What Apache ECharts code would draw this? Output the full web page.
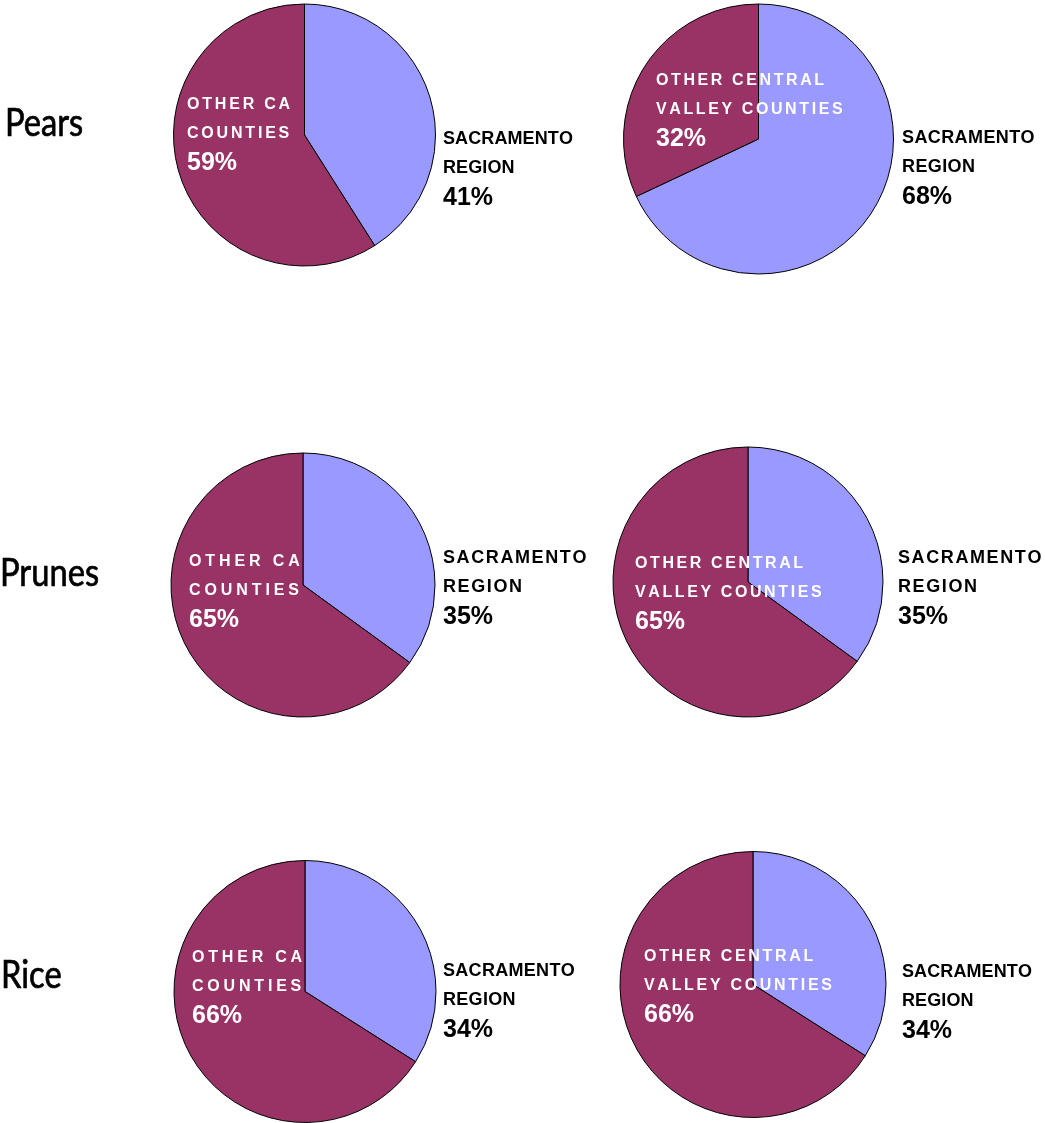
<!DOCTYPE html>
<html>
<head>
<meta charset="utf-8">
<script src="https://cdn.jsdelivr.net/npm/echarts@6/dist/echarts.min.js"></script>
<style>
html,body{margin:0;padding:0;background:#fff;}
#chart{width:1045px;height:1123px;}
</style>
</head>
<body>
<div id="chart"></div>
<script>
// ---- data ----
const crops = ['Pears', 'Prunes', 'Rice'];
const sacName = 'SACRAMENTO\nREGION';
const otherCAName = 'OTHER CA\nCOUNTIES';
const otherCVName = 'OTHER CENTRAL\nVALLEY COUNTIES';
const sacShareVsCA = [41, 35, 34];
const otherCAShare = [59, 65, 66];
const sacShareVsCV = [68, 35, 34];
const otherCVShare = [32, 65, 66];

// ---- layout (positions / styles only) ----
const pieLayout = [
  // left column (vs other CA counties)
  {c: [304.5, 135], r: 131, lab: [[443, 125], [187, 90]], ls: [0.1, 2.8]},
  {c: [303, 585], r: 132, lab: [[443, 544], [189, 547]], ls: [1.6, 3.9]},
  {c: [305, 991.5], r: 131, lab: [[443, 957], [192, 943]], ls: [0.3, 3.8]},
  // right column (vs other central valley counties)
  {c: [758.5, 139], r: 135, lab: [[902, 124], [656, 66]], ls: [0.4, 2.6]},
  {c: [748, 582], r: 135, lab: [[898, 544], [635, 549]], ls: [1.6, 2.6]},
  {c: [753, 984.5], r: 133, lab: [[902, 958], [644, 942]], ls: [0.1, 2.7]}
];
const rowLabelPos = [[5, 137], [0, 587], [1, 989]];

const SAC_COLOR = '#9999FF';
const OTHER_COLOR = '#993366';
const LABEL_FONT = '"Liberation Sans", Arial, sans-serif';

function spaced(str, style) {
  return str.split('').map(function (ch) { return '{' + style + '|' + ch + '}'; }).join('');
}

function makeSeries(i, values, names) {
  const L = pieLayout[i];
  return {
    type: 'pie',
    center: L.c,
    radius: L.r,
    startAngle: 90,
    clockwise: true,
    animation: false,
    silent: true,
    itemStyle: {borderColor: '#000', borderWidth: 1},
    labelLine: {show: false},
    label: {
      show: true,
      position: 'inside',
      formatter: function (p) {
        const s = p.dataIndex === 0 ? 'k' : 'w';
        const lines = p.name.split('\n').map(function (ln) { return spaced(ln, s + 't'); });
        lines.push('{' + s + 'p|' + p.value + '%}');
        return lines.join('\n');
      },
      rich: {
        kt: {fontFamily: LABEL_FONT, fontWeight: 'bold', fontSize: 18, color: '#000', lineHeight: 29, padding: [0, L.ls[0], 0, 0]},
        kp: {fontFamily: LABEL_FONT, fontWeight: 'bold', fontSize: 25, color: '#000', lineHeight: 30},
        wt: {fontFamily: LABEL_FONT, fontWeight: 'bold', fontSize: 16, color: '#fff', lineHeight: 29, padding: [0, L.ls[1], 0, 0]},
        wp: {fontFamily: LABEL_FONT, fontWeight: 'bold', fontSize: 25, color: '#fff', lineHeight: 30}
      }
    },
    labelLayout: function (p) {
      const pos = L.lab[p.dataIndex];
      return {x: pos[0], y: pos[1], align: 'left', verticalAlign: 'top'};
    },
    data: [
      {name: names[0], value: values[0], itemStyle: {color: SAC_COLOR}},
      {name: names[1], value: values[1], itemStyle: {color: OTHER_COLOR}}
    ]
  };
}

const series = [];
for (let k = 0; k < crops.length; k++) {
  series.push(makeSeries(k, [sacShareVsCA[k], otherCAShare[k]], [sacName, otherCAName]));
}
for (let k = 0; k < crops.length; k++) {
  series.push(makeSeries(3 + k, [sacShareVsCV[k], otherCVShare[k]], [sacName, otherCVName]));
}

const graphics = crops.map(function (name, k) {
  return {
    type: 'text',
    x: rowLabelPos[k][0],
    y: rowLabelPos[k][1] - 13.5,
    scaleX: 0.86,
    silent: true,
    style: {
      text: name,
      font: '38px Lato, "Noto Sans", sans-serif',
      fill: '#000',
      stroke: '#000',
      lineWidth: 0.7,
      textAlign: 'left',
      textVerticalAlign: 'middle'
    }
  };
});

const chart = echarts.init(document.getElementById('chart'), null, {renderer: 'canvas'});
chart.setOption({
  backgroundColor: '#fff',
  animation: false,
  series: series,
  graphic: graphics
});
</script>
</body>
</html>
